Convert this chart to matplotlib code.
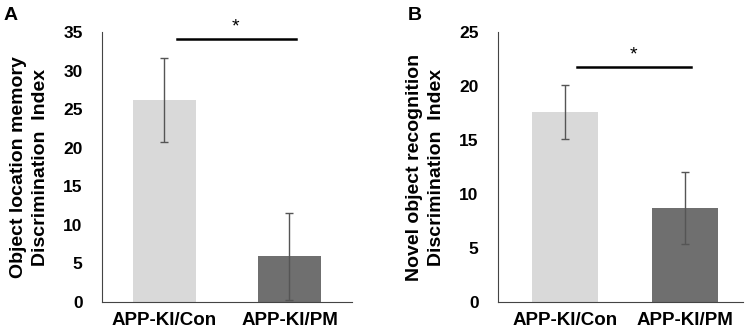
import matplotlib
matplotlib.use("Agg")
import matplotlib.pyplot as plt

plt.rcParams['font.family'] = ['Liberation Sans', 'DejaVu Sans']

groups = ["APP-KI/Con", "APP-KI/PM"]
olm_mean = [26.2, 5.9]
olm_sem = [5.4, 5.6]
nor_mean = [17.6, 8.7]
nor_sem = [2.5, 3.3]
bar_colors = ["#d9d9d9", "#6f6f6f"]

fig = plt.figure(figsize=(7.51, 3.35), dpi=100)
axA = fig.add_axes([0.1358, 0.0985, 0.3329, 0.806])
axB = fig.add_axes([0.6631, 0.0985, 0.3262, 0.806])

def panel(ax, means, sems, ymax, ystep, ylabel, sig_y, width, xlim):
    x = range(len(groups))
    ax.bar(x, means, width=width, color=bar_colors, yerr=sems,
           error_kw=dict(ecolor="#555555", elinewidth=1, capsize=3, capthick=1))
    ax.set_ylim(0, ymax)
    ax.set_xlim(*xlim)
    ax.set_yticks(range(0, ymax + 1, ystep))
    ax.set_xticks(list(x))
    ax.set_xticklabels(groups, fontsize=13.5, fontweight="bold")
    for lab in ax.get_yticklabels():
        lab.set_fontsize(12.5)
        lab.set_fontweight("bold")
    ax.tick_params(length=0)
    ax.tick_params(axis="y", pad=14)
    ax.tick_params(axis="x", pad=7)
    ax.spines["top"].set_visible(False)
    ax.spines["right"].set_visible(False)
    ax.spines["left"].set_color("#444444")
    ax.spines["bottom"].set_color("#444444")
    ax.set_ylabel(ylabel, fontsize=14, fontweight="bold", labelpad=10,
                  linespacing=1.4)
    ax.plot([0.1, 1.05], [sig_y, sig_y], color="black", lw=1.8, clip_on=False)
    ax.text(0.57, sig_y + ymax * 0.012, "*", ha="center", va="bottom", fontsize=14)

panel(axA, olm_mean, olm_sem, 35, 5,
      "Object location memory\nDiscrimination  Index", 34.1, 0.5, (-0.5, 1.5))
panel(axB, nor_mean, nor_sem, 25, 5,
      "Novel object recognition\nDiscrimination  Index", 21.8, 0.55, (-0.56, 1.48))

fig.text(0.005, 0.955, "A", fontsize=14, fontweight="bold", va="center")
fig.text(0.543, 0.955, "B", fontsize=14, fontweight="bold", va="center")

fig.savefig("out.png", dpi=100)
